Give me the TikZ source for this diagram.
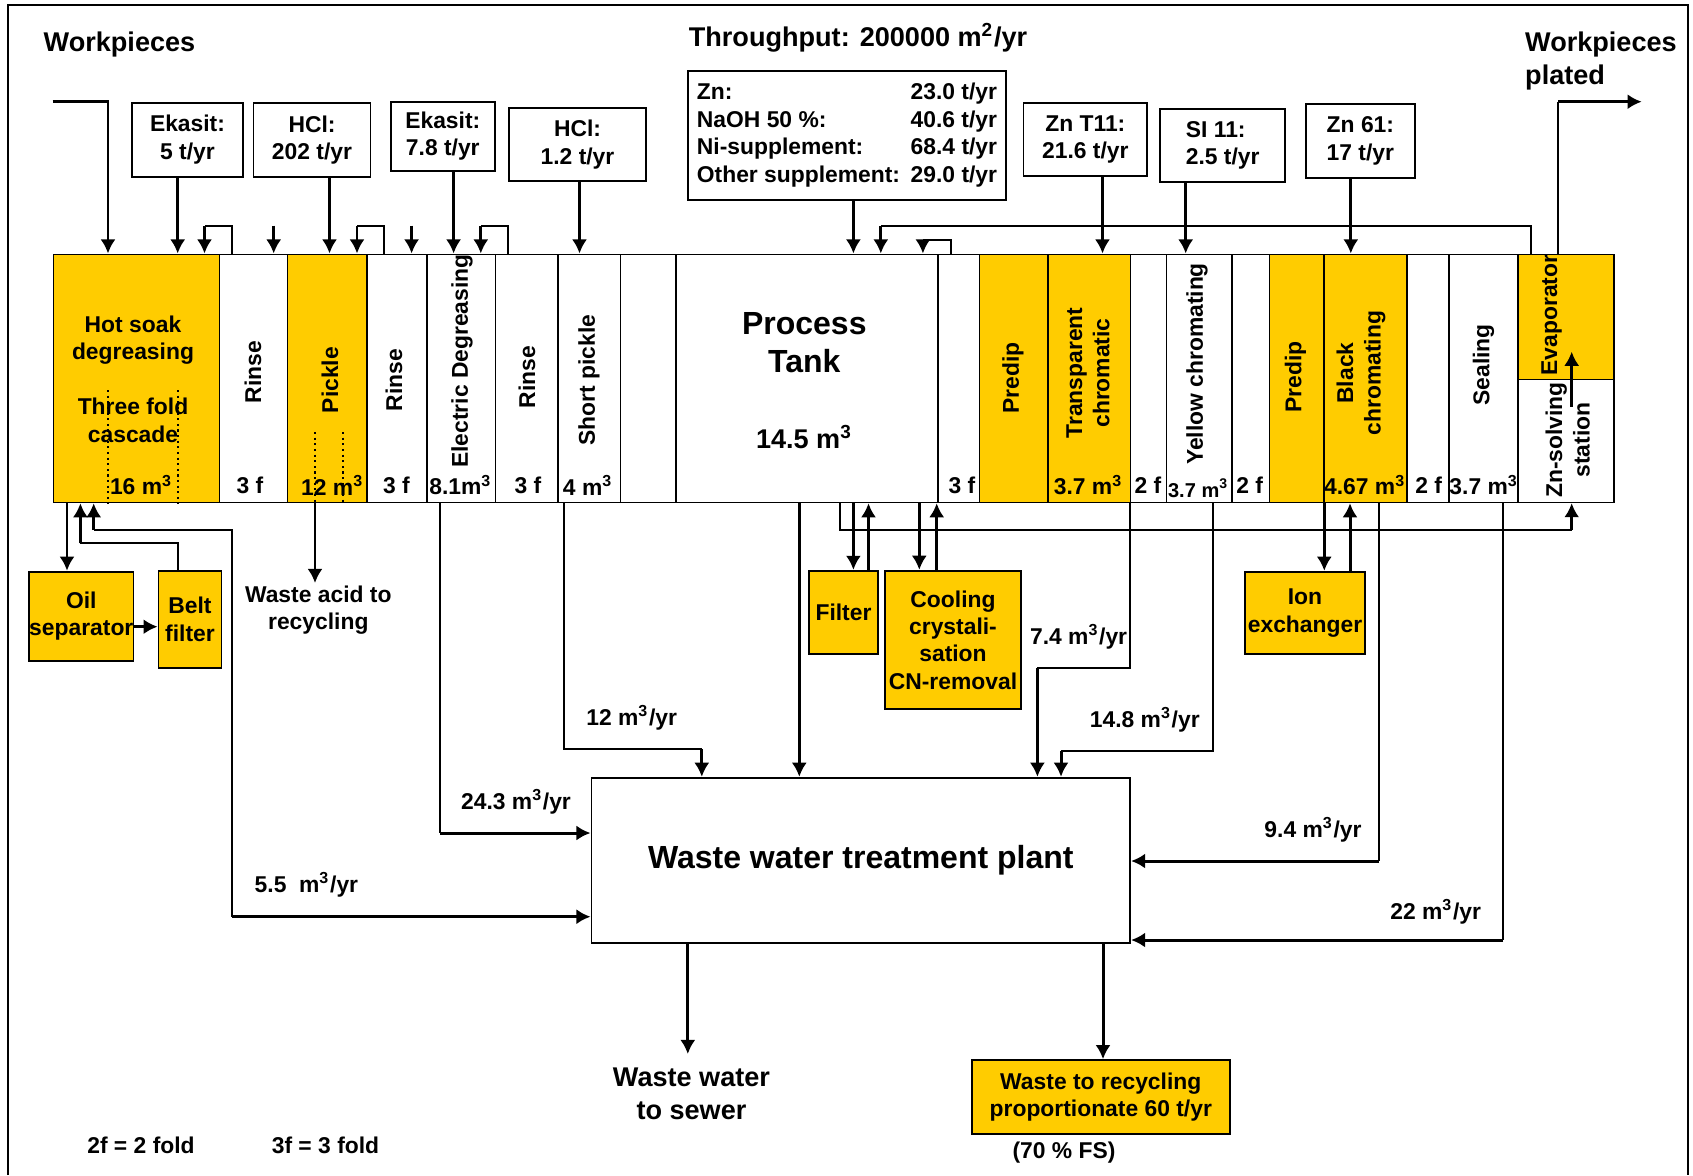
\documentclass[tikz,border=0pt]{standalone}
\usepackage{fontspec}
\setmainfont{Liberation Sans}
\usepackage{xcolor}
\usepackage{tikz}
\usetikzlibrary{arrows.meta, positioning, calc}
\definecolor{tankYellow}{RGB}{255,204,0}
\newcommand{\lblfont}{\fontsize{6.5}{7.8}\selectfont\bfseries}
\newcommand{\tinyfont}{\fontsize{5.7}{6.8}\selectfont\bfseries}
\newcommand{\midfont}{\fontsize{7.7}{9.4}\selectfont\bfseries}
\newcommand{\bigfont}{\fontsize{9.1}{11}\selectfont\bfseries}
\newcommand{\cubm}{m\textsuperscript{3}}
\tikzset{
  tankNode/.style={draw, line width=0.45pt, anchor=north west, inner sep=0pt, minimum height=2.48cm, fill=white},
  supplyNode/.style={draw, line width=0.5pt, fill=white, align=center, font=\lblfont, inner sep=0pt},
  unitNode/.style={supplyNode, fill=tankYellow},
  tankText/.style={font=\lblfont, rotate=90, align=center, inner sep=0pt},
  volText/.style={font=\lblfont, inner sep=0pt},
  flowText/.style={font=\lblfont, inner sep=0pt, align=center},
  titleText/.style={font=\midfont, inner sep=0pt, align=center},
  feedFlow/.style={-{Latex[length=4pt,width=4.3pt]}, line width=0.85pt},
  thinLine/.style={line width=0.5pt},
  divider/.style={densely dotted, line width=0.6pt}
}

\begin{document}
\begin{tikzpicture}[x=0.01cm, y=-0.01cm]
  \useasboundingbox (0,0) rectangle (1693,1175);
  \draw[line width=0.75pt] (8,1175) -- (8,5) -- (1688,5) -- (1688,1175);

  % process line
  \foreach \nm/\xl/\xr/\fl in {hotsoak/52.7/218.7/tankYellow, rinseA/218.7/286.6/white,
      pickle/286.6/366/tankYellow, rinseB/366/426.3/white, elecdeg/426.3/494.6/white,
      rinseC/494.6/557/white, shortpickle/557/619.6/white, spareTank/619.6/675/white,
      proctank/675/937/white, rinseD/937/978.7/white, predipA/978.7/1047.4/tankYellow,
      transchrom/1047.4/1129.8/tankYellow, rinseE/1129.8/1165.6/white,
      yellowchrom/1165.6/1231/white, rinseF/1231/1268.5/white, predipB/1268.5/1323/tankYellow,
      blackchrom/1323/1406/tankYellow, rinseG/1406/1448/white, sealing/1448/1517/white}
    \node[tankNode, fill=\fl, minimum width={(\xr-\xl)*0.01cm}] (\nm) at (\xl,253.5) {};
  \node[tankNode, fill=tankYellow, minimum width=0.963cm, minimum height=1.25cm] (evaporator) at (1517,253.5) {};
  \node[tankNode, minimum width=0.963cm, minimum height=1.23cm] (znsolving) at (1517,378.5) {};

  \draw[divider] (108,390) -- (108,0 |- hotsoak.south);
  \draw[divider] (177.7,390) -- (177.7,0 |- hotsoak.south);
  \draw[divider] (315.2,432) -- (315.2,0 |- pickle.south);
  \draw[divider] (342.8,432) -- (342.8,0 |- pickle.south);

  \node[flowText] (hotsoakTxt) at (133,379) {Hot soak\\degreasing\\[7.8pt]Three fold\\cascade};
  \node[tankText] (rinseAtxt) at (253,372) {Rinse};
  \node[tankText] (pickleTxt) at (330,380) {Pickle};
  \node[tankText] (rinseBtxt) at (394,380) {Rinse};
  \node[tankText] (elecdegTxt) at (462,361) {Electric Degreasing};
  \node[tankText] (rinseCtxt) at (527,377) {Rinse};
  \node[tankText] (shortpickleTxt) at (589,380) {Short pickle};
  \node[font=\bigfont, align=center, inner sep=0pt] (proctankTxt) at (804.3,342.5) {Process\\Tank};
  \node[titleText] (proctankVol) at (804.3,436.7) {14.5 \cubm};
  \node[tankText] (predipAtxt) at (1013,378) {Predip};
  \node[tankText] (transchromTxt) at (1088,373) {Transparent\\chromatic};
  \node[tankText] (yellowchromTxt) at (1197,364) {Yellow chromating};
  \node[tankText] (predipBtxt) at (1295.5,377) {Predip};
  \node[tankText] (blackchromTxt) at (1361,373) {Black\\chromating};
  \node[tankText] (sealingTxt) at (1483.5,365) {Sealing};
  \node[tankText] (evaporatorTxt) at (1551.7,315) {Evaporator};
  \node[tankText] (znsolvingTxt) at (1567.7,440) {Zn-solving\\station};

  \foreach \nm/\x/\txt in {hotsoakVol/141.4/16 \cubm, rinseAvol/250/3 f, pickleVol/332.6/12 \cubm,
      rinseBvol/396.4/3 f, elecdegVol/460.7/8.1\cubm, rinseCvol/528/3 f, shortpickleVol/588/4 \cubm,
      rinseDvol/962/3 f, transchromVol/1088.4/3.7 \cubm, rinseEvol/1148/2 f, rinseFvol/1249.7/2 f,
      blackchromVol/1365/4.67 \cubm, rinseGvol/1428.7/2 f, sealingVol/1484/3.7 \cubm}
    \node[volText] (\nm) at (\x,485) {\txt};
  \node[volText, font=\tinyfont] (yellowchromVol) at (1198.5,488) {3.7 \cubm};

  % supplies
  \node[titleText] (wpTitle) at (119.5,44) {Workpieces};
  \node[titleText] (throughput) at (858,38) {Throughput: 200000 m\textsuperscript{2}/yr};
  \node[titleText, align=left, anchor=west] (wpPlated) at (1524.5,61) {Workpieces\\plated};
  \node[supplyNode, minimum width=1.11cm, minimum height=0.74cm] (ekasitA) at (187.5,139.7) {Ekasit:\\5 t/yr};
  \node[supplyNode, minimum width=1.17cm, minimum height=0.743cm] (hclA) at (312,139.8) {HCl:\\202 t/yr};
  \node[supplyNode, minimum width=1.036cm, minimum height=0.69cm] (ekasitB) at (442.8,136.2) {Ekasit:\\7.8 t/yr};
  \node[supplyNode, minimum width=1.37cm, minimum height=0.733cm] (hclB) at (577.5,144.4) {HCl:\\1.2 t/yr};
  \node[supplyNode, minimum width=3.18cm, minimum height=1.29cm] (additives) at (847,135.5)
    {\begin{tabular}{@{}l@{\hspace{3pt}}l@{}}Zn: & 23.0 t/yr\\ NaOH 50 \%: & 40.6 t/yr\\
     Ni-supplement: & 68.4 t/yr\\ Other supplement: & 29.0 t/yr\end{tabular}};
  \node[supplyNode, minimum width=1.234cm, minimum height=0.736cm] (znT) at (1085.3,139.5) {Zn T11:\\21.6 t/yr};
  \node[supplyNode, minimum width=1.246cm, minimum height=0.736cm, align=left] (siBox) at (1222.7,145.5) {SI 11:\\2.5 t/yr};
  \node[supplyNode, minimum width=1.09cm, minimum height=0.74cm, align=left] (znSixtyOne) at (1360.4,140.7) {Zn 61:\\17 t/yr};

  \coordinate (wpin) at (52.7,101.7);
  \coordinate (wpout) at (1641.7,101.7);
  \coordinate (waterA) at (273.7,225.7);
  \coordinate (waterB) at (411.6,225.7);
  \draw[feedFlow] (wpin) -| (108,0 |- hotsoak.north);
  \draw[feedFlow] (177.7,0 |- ekasitA.south) -- (177.7,0 |- hotsoak.north);
  \draw[feedFlow] (329.5,0 |- hclA.south) -- (329.5,0 |- pickle.north);
  \draw[feedFlow] (453.6,0 |- ekasitB.south) -- (453.6,0 |- elecdeg.north);
  \draw[feedFlow] (579.5,0 |- hclB.south) -- (579.5,0 |- shortpickle.north);
  \draw[feedFlow] (853.4,0 |- additives.south) -- (853.4,0 |- proctank.north);
  \draw[feedFlow] (1102.5,0 |- znT.south) -- (1102.5,0 |- transchrom.north);
  \draw[feedFlow] (1185.7,0 |- siBox.south) -- (1185.7,0 |- yellowchrom.north);
  \draw[feedFlow] (1350.8,0 |- znSixtyOne.south) -- (1350.8,0 |- blackchrom.north);
  \draw[feedFlow] (waterA) -- (waterA |- rinseA.north);
  \draw[feedFlow] (waterB) -- (waterB |- rinseB.north);
  \foreach \src/\xs/\dst/\xd/\yl in {rinseA/232/hotsoak/204.5/225.7, rinseB/384/pickle/357/225.7,
      rinseC/508/elecdeg/480.8/225.7, rinseD/951/proctank/922.9/240, evaporator/1531/proctank/880.8/225.7} {
    \draw[thinLine] (\xs,0 |- \src.north) |- (\xd,\yl);
    \draw[feedFlow] (\xd,\yl) -- (\xd,0 |- \dst.north);
  }
  \draw[thinLine] (1558,0 |- evaporator.north) -- (1558,101.7);
  \draw[feedFlow] (1558,101.7) -- (wpout);
  \coordinate (znup) at (1571.7,406.7);
  \draw[feedFlow] (znup) -- (znup |- 0,351.7);

  % treatment units
  \node[unitNode, minimum width=1.035cm, minimum height=0.893cm] (oilsep) at (81.3,616.3) {Oil\\separator};
  \node[unitNode, minimum width=0.63cm, minimum height=0.97cm] (beltfilter) at (190,619.5) {Belt\\filter};
  \node[unitNode, minimum width=0.69cm, minimum height=0.833cm] (filterbox) at (843.5,612.4) {Filter};
  \node[unitNode, minimum width=1.353cm, minimum height=1.386cm] (cooling) at (953,640) {Cooling\\crystali-\\sation\\CN-removal};
  \node[unitNode, minimum width=1.2cm, minimum height=0.826cm] (ionex) at (1305,613) {Ion\\exchanger};
  \node[supplyNode, font=\bigfont, minimum width=5.385cm, minimum height=1.656cm] (wwtp) at (860.8,860.5) {Waste water treatment plant};
  \node[unitNode, minimum width=2.58cm, minimum height=0.737cm] (wasterec) at (1100.8,1096.9) {Waste to recycling\\proportionate 60 t/yr};

  \draw[feedFlow] (67,0 |- hotsoak.south) -- (67,0 |- oilsep.north);
  \draw[feedFlow] (oilsep.east |- 0,626.7) -- (beltfilter.west |- 0,626.7);
  \draw[thinLine] (177.7,0 |- beltfilter.north) |- (80.4,543.3);
  \draw[feedFlow] (80.4,543.3) -- (80.4,0 |- hotsoak.south);
  \draw[feedFlow] (93.7,530) -- (93.7,0 |- hotsoak.south);
  \draw[thinLine] (93.7,530) -| (232,916.7);
  \draw[feedFlow] (232,916.7) -- (wwtp.west |- 0,916.7);
  \coordinate (acidout) at (315,583);
  \draw[feedFlow] (acidout |- pickle.south) -- (acidout);
  \draw[thinLine] (439.7,0 |- elecdeg.south) -- (439.7,833);
  \draw[feedFlow] (439.7,833) -- (wwtp.west |- 0,833);
  \draw[thinLine] (563.8,0 |- shortpickle.south) |- (701.8,749);
  \draw[feedFlow] (701.8,749) -- (701.8,0 |- wwtp.north);
  \draw[feedFlow] (799.3,0 |- proctank.south) -- (799.3,0 |- wwtp.north);
  \draw[thinLine] (840.2,0 |- proctank.south) |- (1571.7,530);
  \draw[feedFlow] (1571.7,530) -- (1571.7,0 |- znsolving.south);
  \draw[feedFlow] (853.4,0 |- proctank.south) -- (853.4,0 |- filterbox.north);
  \draw[feedFlow] (868.5,0 |- filterbox.north) -- (868.5,0 |- proctank.south);
  \draw[feedFlow] (919.3,0 |- proctank.south) -- (919.3,0 |- cooling.north);
  \draw[feedFlow] (936.7,0 |- cooling.north) -- (936.7,0 |- proctank.south);
  \draw[thinLine] (1129.8,0 |- transchrom.south) |- (1037.4,667.7);
  \draw[feedFlow] (1037.4,667.7) -- (1037.4,0 |- wwtp.north);
  \draw[thinLine] (1213,0 |- yellowchrom.south) |- (1061,750.7);
  \draw[feedFlow] (1061,750.7) -- (1061,0 |- wwtp.north);
  \draw[feedFlow] (1324.3,0 |- blackchrom.south) -- (1324.3,0 |- ionex.north);
  \draw[feedFlow] (1350,0 |- ionex.north) -- (1350,0 |- blackchrom.south);
  \draw[thinLine] (1379,0 |- blackchrom.south) -- (1379,861);
  \draw[feedFlow] (1379,861) -- (wwtp.east |- 0,861);
  \draw[thinLine] (1503,0 |- sealing.south) -- (1503,940);
  \draw[feedFlow] (1503,940) -- (wwtp.east |- 0,940);
  \coordinate (sewer) at (687.8,1054);
  \draw[feedFlow] (sewer |- wwtp.south) -- (sewer);
  \draw[feedFlow] (1103,0 |- wwtp.south) -- (1103,0 |- wasterec.north);

  % labels
  \node[flowText] (acidTxt) at (318.3,610) {Waste acid to\\recycling};
  \node[flowText] (flowElec) at (516,801.7) {24.3 \cubm/yr};
  \node[flowText] (flowHot) at (306.4,885) {5.5\ \ \cubm/yr};
  \node[flowText] (flowShort) at (631.7,718) {12 \cubm/yr};
  \node[flowText] (flowTrans) at (1078.6,636.7) {7.4 \cubm/yr};
  \node[flowText] (flowYellow) at (1144.8,720) {14.8 \cubm/yr};
  \node[flowText] (flowBlack) at (1313,830) {9.4 \cubm/yr};
  \node[flowText] (flowSeal) at (1435.7,912) {22 \cubm/yr};
  \node[titleText] (sewerTxt) at (691.5,1094) {Waste water\\to sewer};
  \node[flowText] (fsTxt) at (1064,1153) {(70 \% FS)};
  \node[flowText] (twoFold) at (141,1145) {2f = 2 fold};
  \node[flowText] (threeFold) at (325.5,1145) {3f = 3 fold};
\end{tikzpicture}
\end{document}
